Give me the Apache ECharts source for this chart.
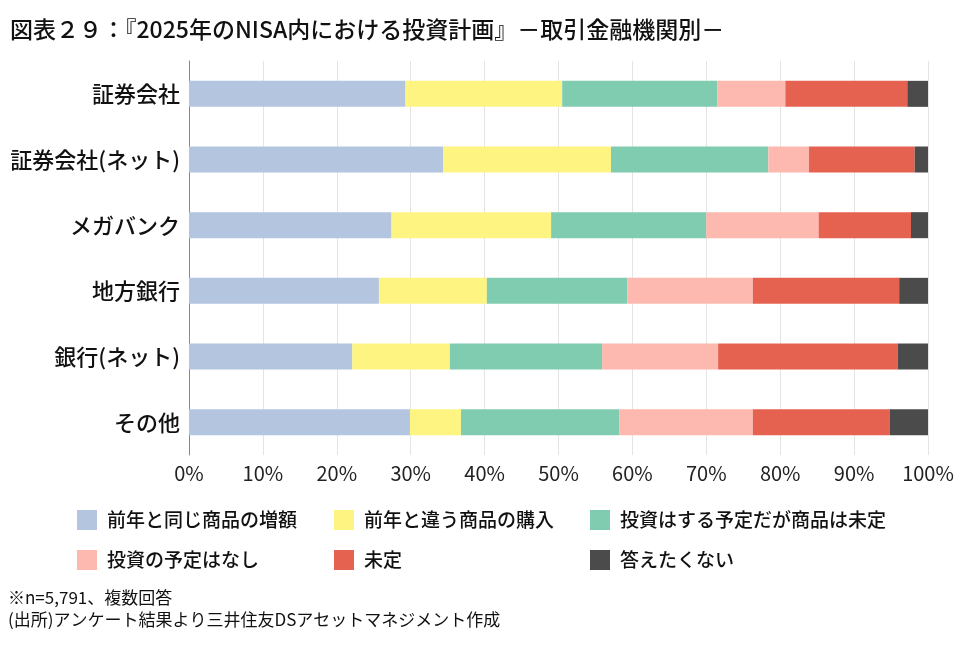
<!DOCTYPE html>
<html><head><meta charset="utf-8">
<script src="https://cdn.jsdelivr.net/npm/echarts@6/dist/echarts.min.js"></script>
<style>html,body{margin:0;padding:0;background:#fff}#c{width:971px;height:650px}</style>
</head><body><div id="c"></div>
<script>
const categories = ['証券会社','証券会社(ネット)','メガバンク','地方銀行','銀行(ネット)','その他'];
const seriesNames = ['前年と同じ商品の増額','前年と違う商品の購入','投資はする予定だが商品は未定','投資の予定はなし','未定','答えたくない'];
const sameIncrease = [29.3, 34.4, 27.4, 25.7, 22.1, 29.9];
const otherPurchase = [21.2, 22.7, 21.6, 14.6, 13.2, 6.9];
const investUndecided = [21.0, 21.3, 21.0, 19.0, 20.6, 21.4];
const noPlan = [9.2, 5.5, 15.2, 17.0, 15.7, 18.1];
const undecided = [16.5, 14.3, 12.5, 19.8, 24.3, 18.5];
const noAnswer = [2.8, 1.8, 2.3, 3.9, 4.1, 5.2];
const tickLabels = ['0%','10%','20%','30%','40%','50%','60%','70%','80%','90%','100%'];
const colors = ['#B4C5E0','#FEF482','#80CCB1','#FDB8B0','#E66250','#4B4B4B'];
const values = [sameIncrease, otherPurchase, investUndecided, noPlan, undecided, noAnswer];
const FONT = '"Noto Sans CJK JP", "Noto Sans", sans-serif';

const legendPos = [[77,510],[334,510],[590,510],[77,550],[334,550],[590,550]];
const chart = echarts.init(document.getElementById('c'));
chart.setOption({
  animation:false,
  textStyle:{fontFamily:FONT},
  title:[
    {text:'図表２９：『2025年のNISA内における投資計画』－取引金融機関別－', left:10, top:18, padding:0,
     textStyle:{fontFamily:FONT, fontSize:23, fontWeight:500, color:'#111'}},
    {text:'※n=5,791、複数回答\n(出所)アンケート結果より三井住友DSアセットマネジメント作成', left:8, top:587, padding:0,
     textStyle:{fontFamily:FONT, fontSize:17, fontWeight:'normal', color:'#111', lineHeight:22}}
  ],
  legend: seriesNames.map((n,i)=>({
    data:[n], left:legendPos[i][0], top:legendPos[i][1], itemWidth:20, itemHeight:20, itemGap:10, padding:0,
    icon:'rect', textStyle:{fontFamily:FONT, fontSize:19, fontWeight:500, color:'#111', padding:[0,0,0,5]}
  })),
  grid:{left:189, right:43, top:61, bottom:195, containLabel:false},
  xAxis:{type:'value', min:0, max:100, interval:10,
    axisLabel:{formatter:v=>tickLabels[v/10], fontSize:20, color:'#222', margin:8, fontFamily:FONT},
    splitLine:{show:true, lineStyle:{color:'#e4e4e4', width:1}},
    axisLine:{show:false}, axisTick:{show:false}},
  yAxis:{type:'category', data:categories, inverse:true,
    axisLabel:{fontSize:22, fontWeight:500, color:'#111', margin:9, fontFamily:FONT},
    axisLine:{show:true, lineStyle:{color:'#888'}}, axisTick:{show:false}},
  series: seriesNames.map((n,i)=>({
    name:n, type:'bar', stack:'total', data:values[i], barWidth:26,
    itemStyle:{color:colors[i]}
  }))
});
</script></body></html>
